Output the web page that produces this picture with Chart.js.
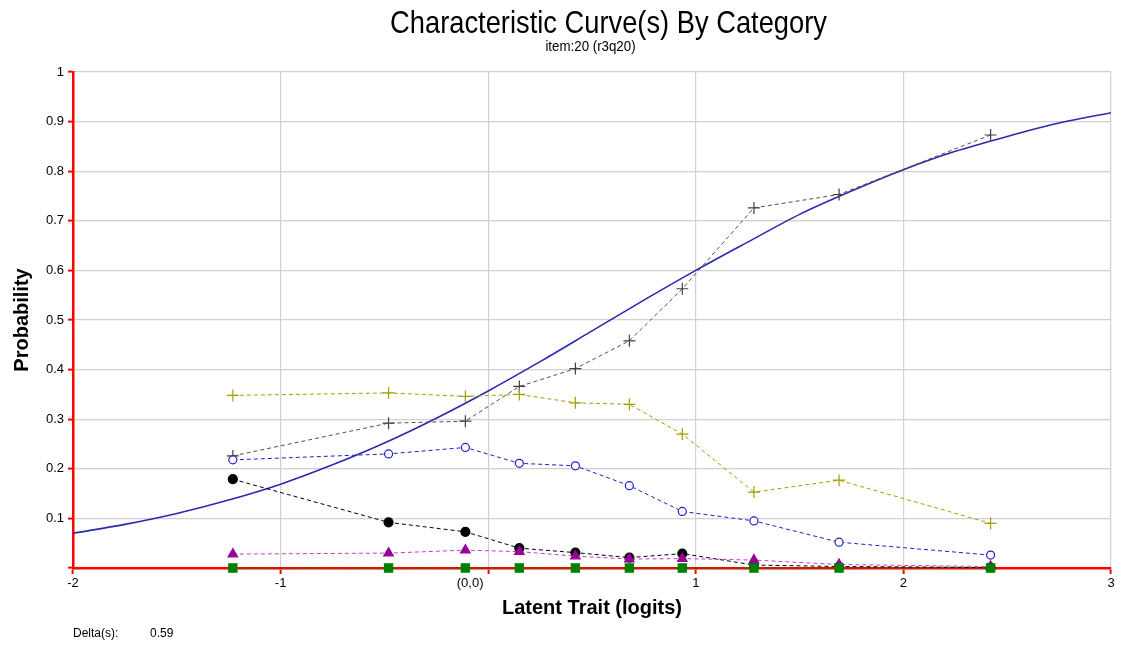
<!DOCTYPE html>
<html>
<head>
<meta charset="utf-8">
<script src="https://cdn.jsdelivr.net/npm/chart.js@4.4.1/dist/chart.umd.min.js"></script>
<style>
    body { margin: 0; background: #fff; }
    #wrap { position: relative; width: 1121px; height: 648px; }
    #delta { position: absolute; left: 73px; top: 626px; font: 12px "Liberation Sans", Arial, sans-serif; color: #000; }
    #delta span { display: inline-block; width: 77px; }
</style>
</head>
<body>
<div id="wrap">
    <canvas id="iccChart" width="1121" height="648"></canvas>
    <div id="delta"><span>Delta(s):</span>0.59</div>
</div>
<script>
const titleText = 'Characteristic Curve(s) By Category';
const subtitleText = 'item:20 (r3q20)';

// group means on the latent trait (logits)
const groupX = [-1.23, -0.48, -0.11, 0.15, 0.42, 0.68, 0.935, 1.28, 1.69, 2.42];

// observed proportions per category
const cat1 = [0.179, 0.092, 0.073, 0.040, 0.031, 0.021, 0.029, 0.006, 0.003, 0.001];  // black dots
const cat2 = [0.028, 0.030, 0.036, 0.033, 0.024, 0.018, 0.019, 0.016, 0.007, 0.003];  // purple triangles
const cat3 = [0, 0, 0, 0, 0, 0, 0, 0, 0, 0];                                          // green squares
const cat4 = [0.218, 0.230, 0.243, 0.211, 0.206, 0.166, 0.114, 0.095, 0.052, 0.026];  // blue circles
const cat5 = [0.348, 0.353, 0.346, 0.350, 0.333, 0.330, 0.270, 0.153, 0.177, 0.090];  // olive plus
const observed = [0.226, 0.292, 0.296, 0.366, 0.402, 0.458, 0.563, 0.726, 0.753, 0.873]; // grey plus

// model curve, read at 0.25 logit steps
const curveX = [-2, -1.75, -1.5, -1.25, -1, -0.75, -0.5, -0.25, 0, 0.25, 0.5,
                0.75, 1, 1.25, 1.5, 1.75, 2, 2.25, 2.5, 2.75, 3];
const curveY = [0.070, 0.088, 0.110, 0.137, 0.169, 0.208, 0.252, 0.302, 0.357, 0.416, 0.478,
                0.540, 0.600, 0.657, 0.713, 0.760, 0.803, 0.840, 0.870, 0.897, 0.918];

// trailing spaces push the origin label a bit left, like the original
const xTicks = ['-2', '-1', '(0,0)          ', '1', '2', '3'];

function pts(xs, ys) {
    return xs.map((x, i) => ({ x: x, y: ys[i] }));
}

function dashed(label, ys, color, lineColor, style, radius, fill) {
    return {
        label: label,
        data: pts(groupX, ys),
        borderColor: lineColor,
        borderWidth: 1,
        borderDash: [4, 3],
        pointStyle: style,
        pointRadius: radius,
        pointBorderColor: color,
        pointBackgroundColor: fill,
        pointBorderWidth: 1.2,
        fill: false,
        clip: false,
        order: 1
    };
}

// narrow title text, drawn by hand since no condensed font is around
const narrowTitle = {
    id: 'narrowTitle',
    afterDraw(chart) {
        const ctx = chart.ctx;
        ctx.save();
        ctx.fillStyle = '#000';
        ctx.textAlign = 'center';
        ctx.textBaseline = 'alphabetic';
        ctx.font = '32px "Liberation Sans", Arial, sans-serif';
        ctx.translate(608.5, 33);
        ctx.scale(0.853, 1);
        ctx.fillText(titleText, 0, 0);
        ctx.restore();

        ctx.save();
        ctx.fillStyle = '#000';
        ctx.textAlign = 'center';
        ctx.textBaseline = 'alphabetic';
        ctx.font = '14px "Liberation Sans", Arial, sans-serif';
        ctx.translate(590.5, 51);
        ctx.scale(0.95, 1);
        ctx.fillText(subtitleText, 0, 0);
        ctx.restore();
    }
};

const tickFont = { family: '"Liberation Sans", Arial, sans-serif', size: 13 };

new Chart(document.getElementById('iccChart').getContext('2d'), {
    type: 'line',
    data: {
        datasets: [
            dashed('Category 3', cat3, '#008000', '#008000', 'rect', 5.8, '#008000'),
            dashed('Category 2', cat2, '#990099', '#c040c0', 'triangle', 5.5, '#990099'),
            dashed('Category 1', cat1, '#000000', '#000000', 'circle', 4.5, '#000000'),
            dashed('Category 4', cat4, '#2020c8', '#2020c8', 'circle', 4, '#ffffff'),
            dashed('Category 5', cat5, '#a0a000', '#a0a000', 'cross', 6, '#a0a000'),
            dashed('Observed', observed, '#404040', '#505050', 'cross', 6, '#404040'),
            {
                label: 'Expected',
                data: pts(curveX, curveY),
                borderColor: '#2a2ab0',
                borderWidth: 1.6,
                pointRadius: 0,
                cubicInterpolationMode: 'monotone',
                fill: false,
                order: 2
            }
        ]
    },
    options: {
        responsive: false,
        animation: false,
        layout: { padding: { left: 0, right: 10, top: 72, bottom: 30 } },
        plugins: {
            legend: { display: false },
            tooltip: { enabled: false },
            title: { display: false }
        },
        scales: {
            x: {
                type: 'linear',
                min: -2,
                max: 3,
                afterFit: s => { s.height = 50; },
                border: { color: '#ff0000', width: 2.5 },
                grid: { color: '#d0d0d0', lineWidth: 1.2, tickColor: '#ff0000', tickLength: 6, tickWidth: 2 },
                ticks: {
                    stepSize: 1,
                    color: '#000',
                    font: tickFont,
                    padding: 2,
                    maxRotation: 0,
                    callback: (v, i) => xTicks[i]
                },
                title: {
                    display: true,
                    text: 'Latent Trait (logits)',
                    color: '#000',
                    font: { family: '"Liberation Sans", Arial, sans-serif', size: 20, weight: 'bold', lineHeight: 1 },
                    padding: { top: 0, bottom: 0 }
                }
            },
            y: {
                min: 0,
                max: 1,
                afterFit: s => { s.width = 73; },
                border: { color: '#ff0000', width: 2.5 },
                grid: { color: '#d0d0d0', lineWidth: 1.2, tickColor: '#ff0000', tickLength: 5, tickWidth: 2 },
                ticks: {
                    stepSize: 0.1,
                    color: '#000',
                    font: tickFont,
                    padding: 4,
                    callback: v => (v === 0 ? '' : String(Math.round(v * 10) / 10))
                },
                title: {
                    display: true,
                    text: 'Probability',
                    color: '#000',
                    font: { family: '"Liberation Sans", Arial, sans-serif', size: 20, weight: 'bold', lineHeight: 1 },
                    padding: { top: 12, bottom: 0 }
                }
            }
        }
    },
    plugins: [narrowTitle]
});
</script>
</body>
</html>
